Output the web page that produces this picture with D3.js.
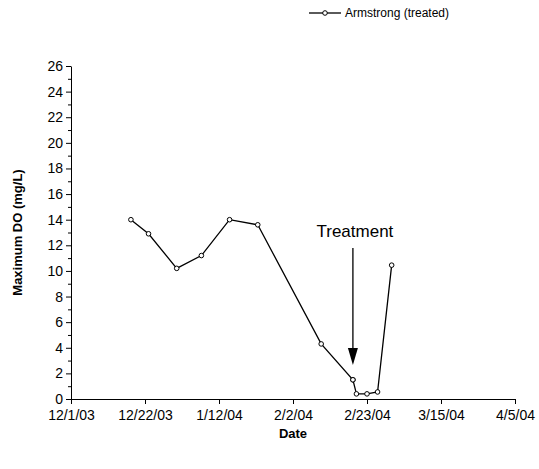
<!DOCTYPE html>
<html><head><meta charset="utf-8">
<script src="https://cdn.jsdelivr.net/npm/d3@7"></script>
<style>body{margin:0;background:#fff}svg{font-family:"Liberation Sans",Arial,sans-serif}</style>
</head><body><svg id="c" width="539" height="469"></svg>
<script>
// data
const dates = ["2003-12-18","2003-12-23","2003-12-31","2004-01-07","2004-01-15","2004-01-23",
  "2004-02-10","2004-02-19","2004-02-19","2004-02-20","2004-02-23","2004-02-26","2004-03-01"];
const maxDO = [14, 12.9, 10.2, 11.2, 14, 13.6, 4.3, 1.5, 1.5, 0.4, 0.4, 0.55, 10.45];
const xTickLabels = ["12/1/03","12/22/03","1/12/04","2/2/04","2/23/04","3/15/04","4/5/04"];
const treatmentDate = "2004-02-19";

const parse = d3.timeParse("%Y-%m-%d");
const svg = d3.select("#c");
const m = {l: 71, r: 24, t: 66, b: 70};
const W = 539, H = 469;
const x = d3.scaleTime().domain([parse("2003-12-01"), parse("2004-04-05")]).range([m.l, W - m.r]);
const y = d3.scaleLinear().domain([0, 26]).range([H - m.b, m.t]);

const xTicks = d3.range(7).map(i => d3.timeDay.offset(parse("2003-12-01"), i * 21));
svg.append("g").attr("transform", `translate(0,${H - m.b})`)
  .call(d3.axisBottom(x).tickValues(xTicks).tickFormat((d, i) => xTickLabels[i]).tickSize(5).tickSizeOuter(0).tickPadding(6))
  .call(g => g.selectAll("text").attr("font-size", 14).attr("fill", "#000"));
svg.append("g").attr("transform", `translate(${m.l},0)`)
  .call(d3.axisLeft(y).tickValues(d3.range(0, 27, 2)).tickSize(5).tickSizeOuter(0))
  .call(g => g.selectAll("text").attr("font-size", 14).attr("fill", "#000"));
// minor ticks
svg.append("g").attr("transform", `translate(${m.l},0)`)
  .call(d3.axisLeft(y).tickValues(d3.range(1, 26, 2)).tickSize(3).tickFormat(""))
  .call(g => g.select(".domain").remove());
svg.selectAll(".domain,.tick line").attr("stroke", "#000");

const pts = dates.map((d, i) => [x(parse(d)), y(maxDO[i])]);
svg.append("path").attr("d", d3.line()(pts)).attr("fill", "none").attr("stroke", "#000").attr("stroke-width", 1.3);
svg.selectAll("circle.p").data(pts).join("circle")
  .attr("cx", d => d[0]).attr("cy", d => d[1]).attr("r", 2.3)
  .attr("fill", "#fff").attr("stroke", "#000").attr("stroke-width", 1);

// treatment arrow
const ax = x(parse(treatmentDate));
svg.append("line").attr("x1", ax).attr("x2", ax).attr("y1", 248).attr("y2", 350).attr("stroke", "#000").attr("stroke-width", 1.3);
svg.append("path").attr("d", `M${ax-5},348L${ax+5},348L${ax},365Z`).attr("fill", "#000");
svg.append("text").attr("x", ax + 2).attr("y", 237).attr("text-anchor", "middle").attr("font-size", 17).text("Treatment");

// axis titles
svg.append("text").attr("x", (m.l + W - m.r) / 2).attr("y", 438).attr("text-anchor", "middle")
  .attr("font-size", 13).attr("font-weight", "bold").text("Date");
svg.append("text").attr("transform", `translate(22,${(m.t + H - m.b) / 2}) rotate(-90)`).attr("text-anchor", "middle")
  .attr("font-size", 13).attr("font-weight", "bold").text("Maximum DO (mg/L)");

// legend
svg.append("line").attr("x1", 309).attr("x2", 341).attr("y1", 13).attr("y2", 13).attr("stroke", "#000").attr("stroke-width", 1.3);
svg.append("circle").attr("cx", 325).attr("cy", 13).attr("r", 2.3).attr("fill", "#fff").attr("stroke", "#000");
svg.append("text").attr("x", 345).attr("y", 17).attr("font-size", 12).text("Armstrong (treated)");
</script></body></html>
